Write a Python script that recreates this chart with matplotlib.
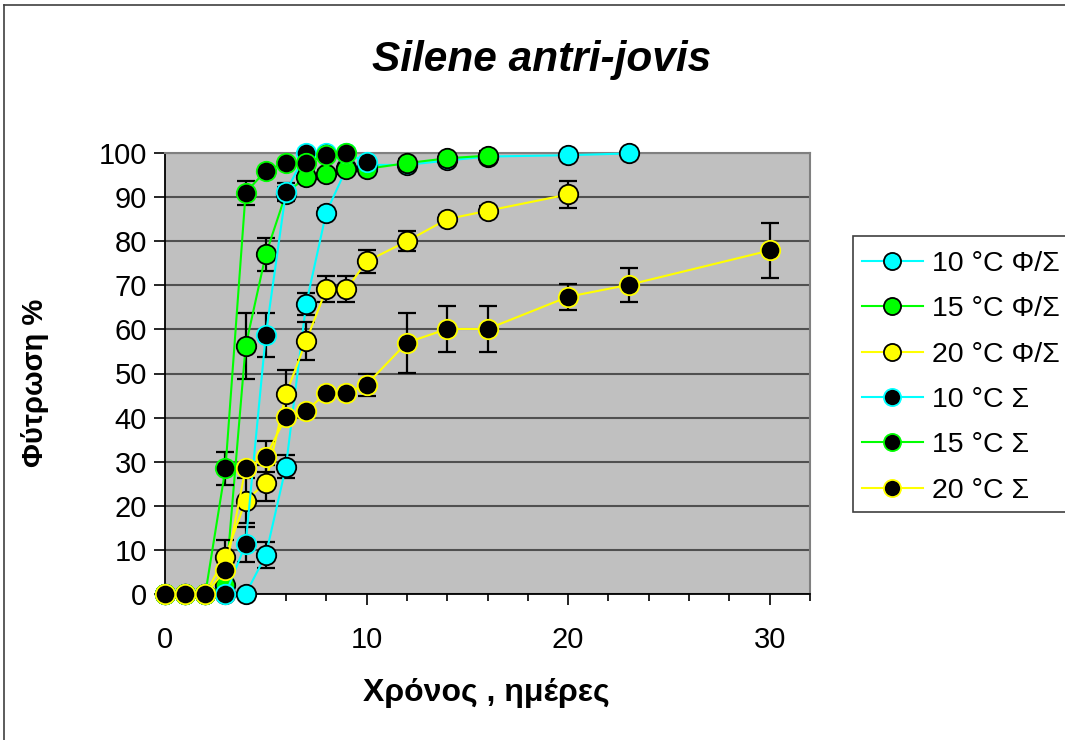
import matplotlib.pyplot as plt
from matplotlib.lines import Line2D
from matplotlib.patches import Rectangle
from matplotlib.ticker import MultipleLocator

plt.rcParams['font.family'] = ['Liberation Sans', 'DejaVu Sans']

# germination (%) per day, light/dark (Φ/Σ) and dark (Σ)
days_10_fs = [0, 1, 2, 3, 4, 5, 6, 7, 8, 9, 10, 12, 14, 16, 20, 23]
germ_10_fs = [0, 0, 0, 0, 0, 8.8, 28.9, 65.7, 86.5, 96.5, 97.3, 97.3, 98.3, 99.2, 99.5, 99.9]
err_10_fs = [0, 0, 0, 0, 0, 3.0, 2.6, 2.5, 1.0, 0, 0, 0, 0, 0, 0, 0]

days_15_fs = [0, 1, 2, 3, 4, 5, 6, 7, 8, 9, 10, 12, 14, 16]
germ_15_fs = [0, 0, 0, 2.0, 56.2, 77.0, 90.8, 94.6, 95.2, 96.3, 96.4, 97.7, 98.8, 99.4]
err_15_fs = [0, 0, 0, 0, 7.5, 3.8, 1.5, 1.5, 1.0, 1.0, 1.0, 1.0, 1.0, 1.0]

days_20_fs = [0, 1, 2, 3, 4, 5, 6, 7, 8, 9, 10, 12, 14, 16, 20]
germ_20_fs = [0, 0, 0, 8.5, 21.2, 25.2, 45.3, 57.4, 69.1, 69.1, 75.4, 80.0, 85.0, 86.9, 90.6]
err_20_fs = [0, 0, 0, 3.7, 5.0, 4.0, 5.5, 4.3, 3.0, 3.0, 2.6, 2.3, 1.0, 1.0, 3.0]

days_10_s = [0, 1, 2, 3, 4, 5, 6, 7, 8, 9, 10]
germ_10_s = [0, 0, 0, 0, 11.3, 58.7, 91.2, 100, 100, 100, 97.9]
err_10_s = [0, 0, 0, 0, 4.0, 5.0, 2.0, 0, 0, 0, 0]

days_15_s = [0, 1, 2, 3, 4, 5, 6, 7, 8, 9]
germ_15_s = [0, 0, 0, 28.5, 91.0, 96.0, 97.8, 97.8, 99.5, 100]
err_15_s = [0, 0, 0, 3.7, 2.7, 0, 0, 0, 0, 0]

days_20_s = [0, 1, 2, 3, 4, 5, 6, 7, 8, 9, 10, 12, 14, 16, 20, 23, 30]
germ_20_s = [0, 0, 0, 5.4, 28.5, 31.1, 40.2, 41.5, 45.6, 45.6, 47.5, 57.0, 60.1, 60.1, 67.4, 70.1, 77.9]
err_20_s = [0, 0, 0, 0, 0, 3.5, 0, 0, 0, 0, 2.5, 6.8, 5.2, 5.2, 3.0, 3.8, 6.2]

labels = ['10 °C Φ/Σ', '15 °C Φ/Σ', '20 °C Φ/Σ', '10 °C Σ', '15 °C Σ', '20 °C Σ']

CYAN = '#00FFFF'
GREEN = '#00FF00'
YELLOW = '#FFFF00'

series = [
    (days_10_fs, germ_10_fs, err_10_fs, CYAN, CYAN, 'black'),
    (days_15_fs, germ_15_fs, err_15_fs, GREEN, GREEN, 'black'),
    (days_20_fs, germ_20_fs, err_20_fs, YELLOW, YELLOW, 'black'),
    (days_10_s, germ_10_s, err_10_s, CYAN, 'black', CYAN),
    (days_15_s, germ_15_s, err_15_s, GREEN, 'black', GREEN),
    (days_20_s, germ_20_s, err_20_s, YELLOW, 'black', YELLOW),
]

fig = plt.figure(figsize=(10.65, 7.4), dpi=100)
ax = fig.add_axes([165 / 1065, 1 - 594 / 740, 645 / 1065, 441 / 740])
ax.set_facecolor('#C0C0C0')

handles = []
z = 3
for (x, y, e, lc, fc, ec), lab in zip(series, labels):
    eb = ax.errorbar(x, y, yerr=e, fmt='none', ecolor='black', elinewidth=1.6,
                     capsize=6.5, capthick=1.6, zorder=z)
    for art in eb.lines[1] + eb.lines[2]:
        art.set_clip_on(False)
    h, = ax.plot(x, y, '-', color=lc, lw=1.5, marker='o', ms=14,
                 mfc=fc, mec=ec, mew=1.3, clip_on=False, zorder=z + 1, label=lab)
    handles.append(h)
    z += 2

ax.set_xlim(0, 32)
ax.set_ylim(0, 100)
ax.xaxis.set_major_locator(MultipleLocator(10))
ax.xaxis.set_minor_locator(MultipleLocator(2))
ax.yaxis.set_major_locator(MultipleLocator(10))
ax.tick_params(axis='both', which='major', direction='out', length=8, width=1.2,
               labelsize=21, colors='black')
ax.tick_params(axis='x', which='minor', direction='out', length=5, width=1.2)
ax.tick_params(axis='x', pad=15)
ax.tick_params(axis='y', pad=5)
ax.grid(axis='y', color='#505050', lw=1.5)
ax.set_axisbelow(True)
for side in ('top', 'right'):
    ax.spines[side].set_color('#808080')
    ax.spines[side].set_linewidth(1.5)
for side in ('left', 'bottom'):
    ax.spines[side].set_color('black')
    ax.spines[side].set_linewidth(1.3)

fig.text(542 / 1065, 1 - 60 / 740, 'Silene antri-jovis', fontsize=30.5,
         fontweight='bold', fontstyle='italic', ha='center', va='center')
fig.text(35 / 1065, 1 - 383 / 740, 'Φύτρωση %', fontsize=21, fontweight='bold',
         rotation=90, ha='center', va='center')
fig.text(486 / 1065, 1 - 693 / 740, 'Χρόνος , ημέρες', fontsize=23,
         fontweight='bold', ha='center', va='center')

# legend box drawn separately so the entries sit close to its left edge
fig.patches.append(Rectangle((853 / 1065, 1 - 512 / 740), 240 / 1065, 276 / 740,
                             transform=fig.transFigure, facecolor='white',
                             edgecolor='#404040', lw=1.2, zorder=1))
leg = fig.legend(handles=handles, loc='upper left',
                 bbox_to_anchor=(847 / 1065, 1 - 236 / 740), fontsize=20.5,
                 frameon=False, borderaxespad=0, borderpad=0.52,
                 labelspacing=0.68, handlelength=2.15, handletextpad=0.32,
                 markerscale=0.88)
leg.set_zorder(2)

# outer frame of the chart
fig.add_artist(Line2D([4 / 1065, 4 / 1065], [0, 1 - 5 / 740], color='#404040',
                      lw=1.2, transform=fig.transFigure))
fig.add_artist(Line2D([4 / 1065, 1], [1 - 5 / 740, 1 - 5 / 740], color='#404040',
                      lw=1.2, transform=fig.transFigure))

fig.savefig('out.png', dpi=100)
